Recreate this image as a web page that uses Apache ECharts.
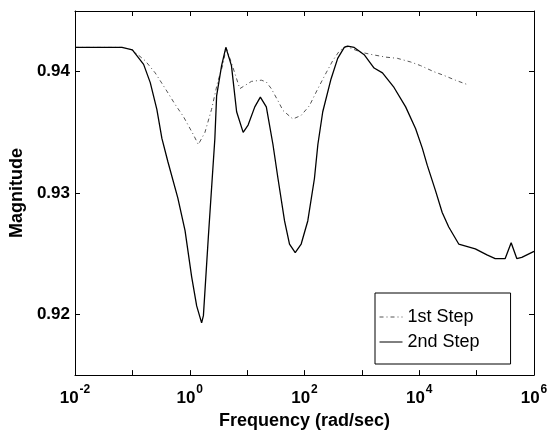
<!DOCTYPE html>
<html>
<head>
<meta charset="utf-8">
<script src="https://cdn.jsdelivr.net/npm/echarts@6/dist/echarts.min.js"></script>
<style>html,body{margin:0;padding:0;background:#fff}#c{width:552px;height:435px}</style>
</head>
<body>
<div id="c"></div>
<script>
// Frequency (rad/sec) and magnitude values
var step1Freq = [0.01, 0.066, 0.0986, 0.1675, 0.25, 0.399, 0.556, 0.776, 1.16, 1.41, 1.84, 2.40, 3.05, 3.84, 4.30, 5.35, 6.27, 7.45, 11.9, 17.7, 21.6, 26.4, 34.5, 42.2, 62.8, 87.5, 122, 171, 238, 310, 404, 528, 962, 1535, 2606, 4159, 7079, 10540, 17950, 26730, 42660, 72610];
var step1Mag  = [0.942, 0.942, 0.9418, 0.9409, 0.9399, 0.9384, 0.9373, 0.9363, 0.9348, 0.9340, 0.9350, 0.9369, 0.9391, 0.9407, 0.9420, 0.9407, 0.9397, 0.9386, 0.9392, 0.9393, 0.93915, 0.9386, 0.9376, 0.9368, 0.9361, 0.9364, 0.9372, 0.9386, 0.9399, 0.9409, 0.9417, 0.9421, 0.9416, 0.9414, 0.9412, 0.9411, 0.9408, 0.9405, 0.9400, 0.9397, 0.9393, 0.9389];

var step2Freq = [0.01, 0.0316, 0.066, 0.1, 0.157, 0.205, 0.267, 0.327, 0.415, 0.619, 0.828, 1.08, 1.32, 1.61, 1.73, 2.11, 2.74, 2.94, 3.59, 4.26, 5.33, 6.56, 8.53, 10.4, 13.6, 17.0, 21.6, 28.2, 34.5, 44.9, 54.8, 68.9, 87.5, 114, 149, 171, 208, 290, 379, 493, 565, 735, 1096, 1633, 2286, 3631, 5794, 8650, 11300, 13770, 19190, 25120, 32660, 48750, 94840, 151400, 210900, 314800, 399900, 501200, 612300, 1000000];
var step2Mag  = [0.942, 0.942, 0.942, 0.9418, 0.9406, 0.9391, 0.9369, 0.9345, 0.9326, 0.9296, 0.9269, 0.9231, 0.9207, 0.9193, 0.9199, 0.9264, 0.9345, 0.9380, 0.9405, 0.9420, 0.9405, 0.9367, 0.9350, 0.9356, 0.9371, 0.9379, 0.9371, 0.9340, 0.9312, 0.9277, 0.9258, 0.9251, 0.9258, 0.9277, 0.9312, 0.9340, 0.9367, 0.9394, 0.9411, 0.9420, 0.9421, 0.9420, 0.9414, 0.9403, 0.9399, 0.9387, 0.9371, 0.9353, 0.9337, 0.9323, 0.9302, 0.9284, 0.9272, 0.9258, 0.9254, 0.9249, 0.9246, 0.9246, 0.9259, 0.9246, 0.9247, 0.9252];

var yTicks = [0.92, 0.93, 0.94];
var xLabelExponents = [-2, 0, 2, 4, 6];
var seriesNames = ['1st Step', '2nd Step'];

function zip(a, b) { return a.map(function (v, i) { return [v, b[i]]; }); }

var FONT = 'Liberation Sans, Arial, Helvetica, sans-serif';
var chart = echarts.init(document.getElementById('c'), null, { renderer: 'canvas' });

function xLabel(v) {
  var e = Math.round(Math.log10(v));
  if (xLabelExponents.indexOf(e) < 0) return '';
  return '{b|10}{e|' + e + '}';
}

var axisLine = { show: true, lineStyle: { color: '#000', width: 1 } };

chart.setOption({
  animation: false,
  backgroundColor: '#fff',
  grid: { left: 73, right: 18, top: 11, bottom: 56, containLabel: false },
  legend: {
    left: 375, top: 293, orient: 'vertical',
    data: seriesNames,
    backgroundColor: '#fff', borderColor: '#000', borderWidth: 1, borderRadius: 0,
    padding: [15, 31, 13, 4], itemWidth: 23, itemHeight: 14, itemGap: 7,
    itemStyle: { color: 'rgba(0,0,0,0)', borderColor: 'rgba(0,0,0,0)', borderWidth: 0, opacity: 0 },
    lineStyle: { width: 1 },
    textStyle: { fontFamily: FONT, fontSize: 18, color: '#000' }
  },
  xAxis: [{
    type: 'log', logBase: 10, min: 0.01, max: 1000000, interval: 1,
    position: 'bottom',
    axisLine: axisLine,
    axisTick: { show: true, inside: true, length: 5, lineStyle: { color: '#000' } },
    splitLine: { show: false },
    axisLabel: {
      formatter: xLabel, margin: 12, color: '#000',
      rich: {
        b: { fontFamily: FONT, fontSize: 17, fontWeight: 'bold', color: '#000', verticalAlign: 'bottom', lineHeight: 20 },
        e: { fontFamily: FONT, fontSize: 12, fontWeight: 'bold', color: '#000', verticalAlign: 'bottom', lineHeight: 20, padding: [0, 0, 11, 1] }
      }
    },
    name: 'Frequency (rad/sec)', nameLocation: 'middle', nameGap: 36,
    nameTextStyle: { fontFamily: FONT, fontSize: 18, fontWeight: 'bold', color: '#000' }
  }, {
    type: 'log', logBase: 10, min: 0.01, max: 1000000, interval: 1,
    position: 'top',
    axisLine: axisLine,
    axisTick: { show: true, inside: true, length: 5, lineStyle: { color: '#000' } },
    axisLabel: { show: false }, splitLine: { show: false }
  }],
  yAxis: [{
    type: 'value', min: 0.915, max: 0.945, position: 'left',
    axisLine: axisLine,
    axisTick: { show: true, inside: true, length: 5, customValues: yTicks, lineStyle: { color: '#000' } },
    splitLine: { show: false },
    axisLabel: {
      customValues: yTicks, margin: 5, color: '#000',
      fontFamily: FONT, fontSize: 17, fontWeight: 'bold',
      formatter: function (v) { return v.toFixed(2); }
    },
    name: 'Magnitude', nameLocation: 'middle', nameGap: 49,
    nameTextStyle: { fontFamily: FONT, fontSize: 18, fontWeight: 'bold', color: '#000' }
  }, {
    type: 'value', min: 0.915, max: 0.945, position: 'right',
    axisLine: axisLine,
    axisTick: { show: true, inside: true, length: 5, customValues: yTicks, lineStyle: { color: '#000' } },
    axisLabel: { show: false }, splitLine: { show: false }
  }],
  series: [{
    name: seriesNames[0], type: 'line', xAxisIndex: 0, yAxisIndex: 0,
    data: zip(step1Freq, step1Mag), symbol: 'none', showSymbol: false, smooth: false,
    lineStyle: { color: '#555', width: 1, type: [4, 3, 1, 3] },
    itemStyle: { color: '#555' }
  }, {
    name: seriesNames[1], type: 'line', xAxisIndex: 0, yAxisIndex: 0,
    data: zip(step2Freq, step2Mag), symbol: 'none', showSymbol: false, smooth: false,
    lineStyle: { color: '#000', width: 1.3, type: 'solid' },
    itemStyle: { color: '#000' }
  }]
});
</script>
</body>
</html>
